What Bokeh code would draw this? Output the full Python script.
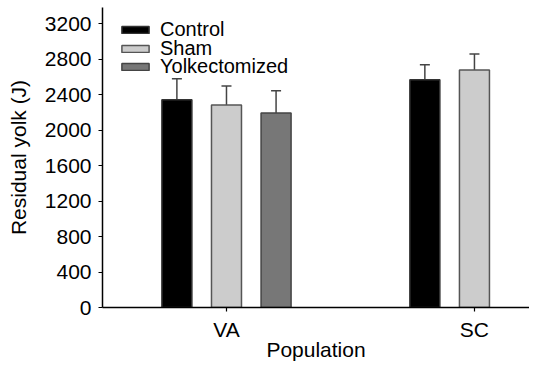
from bokeh.plotting import figure
from bokeh.models import (Range1d, Whisker, TeeHead, ColumnDataSource, Legend, LegendItem,
                          FixedTicker)
from bokeh.embed import file_html
from bokeh.resources import INLINE

# ---- data ----
populations = ["VA", "SC"]
treatments = ["Control", "Sham", "Yolkectomized"]
va_means = [2345, 2285, 2195]
va_errors = [235, 215, 250]
sc_means = [2570, 2680]
sc_errors = [170, 180]
y_ticks = [0, 400, 800, 1200, 1600, 2000, 2400, 2800, 3200]

# ---- styles ----
fills = {"Control": "#000000", "Sham": "#cccccc", "Yolkectomized": "#777777"}
lines = {"Control": "#333333", "Sham": "#555555", "Yolkectomized": "#444444"}
offsets = {"Control": -0.2, "Sham": 0.0, "Yolkectomized": 0.2}
legend_y = {"Control": 266, "Sham": 247, "Yolkectomized": 229}
FONT = "Liberation Sans"

p = figure(width=529, height=363, output_backend="svg", toolbar_location=None,
           x_range=Range1d(0.5, 2.222), y_range=Range1d(0, 3385),
           min_border_left=102, min_border_right=0, min_border_top=7, min_border_bottom=54)
p.outline_line_color = None
p.xgrid.visible = False
p.ygrid.visible = False

renderers = {}
for gi, (pop, means, errs) in enumerate([("VA", va_means, va_errors), ("SC", sc_means, sc_errors)]):
    for ti, (m, e) in enumerate(zip(means, errs)):
        t = treatments[ti]
        x = gi + 1 + offsets[t]
        src = ColumnDataSource(dict(x=[x], top=[m], upper=[m + e]))
        r = p.vbar(x="x", top="top", bottom=0, width=0.121, source=src,
                   fill_color=fills[t], line_color=lines[t], line_width=1.5)
        renderers.setdefault(t, r)
        w = Whisker(source=src, base="x", lower="top", upper="upper",
                    line_color="#444444", line_width=1.5,
                    upper_head=TeeHead(size=10, line_color="#444444", line_width=1.5),
                    lower_head=None)
        p.add_layout(w)

# axes
p.yaxis.ticker = FixedTicker(ticks=y_ticks)
p.xaxis.ticker = FixedTicker(ticks=[1, 2])
p.xaxis.major_label_overrides = {1: populations[0], 2: populations[1]}
for ax in (p.xaxis, p.yaxis):
    ax.axis_line_color = "black"
    ax.axis_line_width = 1.5
    ax.major_tick_line_color = "black"
    ax.major_tick_line_width = 1.2
    ax.major_tick_in = 0
    ax.major_tick_out = 4
    ax.minor_tick_line_color = None
    ax.major_label_text_font = FONT
    ax.major_label_text_font_size = "21px"
    ax.major_label_text_color = "black"
    ax.axis_label_text_font = FONT
    ax.axis_label_text_font_size = "21px"
    ax.axis_label_text_font_style = "normal"
    ax.axis_label_text_color = "black"
p.yaxis.major_label_standoff = 7
p.xaxis.major_label_standoff = 6
p.yaxis.axis_label = "Residual yolk (J)"
p.xaxis.axis_label = "Population"
p.yaxis.axis_label_standoff = 12
p.xaxis.axis_label_standoff = -6

# one single-item legend per treatment, so rows can sit close together
for t in treatments:
    legend = Legend(items=[LegendItem(label=t, renderers=[renderers[t]])],
                    location=(16, legend_y[t]), orientation="vertical",
                    glyph_width=34, glyph_height=9, label_height=15, spacing=0,
                    padding=0, margin=0, label_standoff=8,
                    label_text_font=FONT, label_text_font_size="20px",
                    label_text_color="black",
                    border_line_color=None, background_fill_alpha=0)
    p.add_layout(legend)

open("out.html", "w").write(file_html(p, INLINE))
